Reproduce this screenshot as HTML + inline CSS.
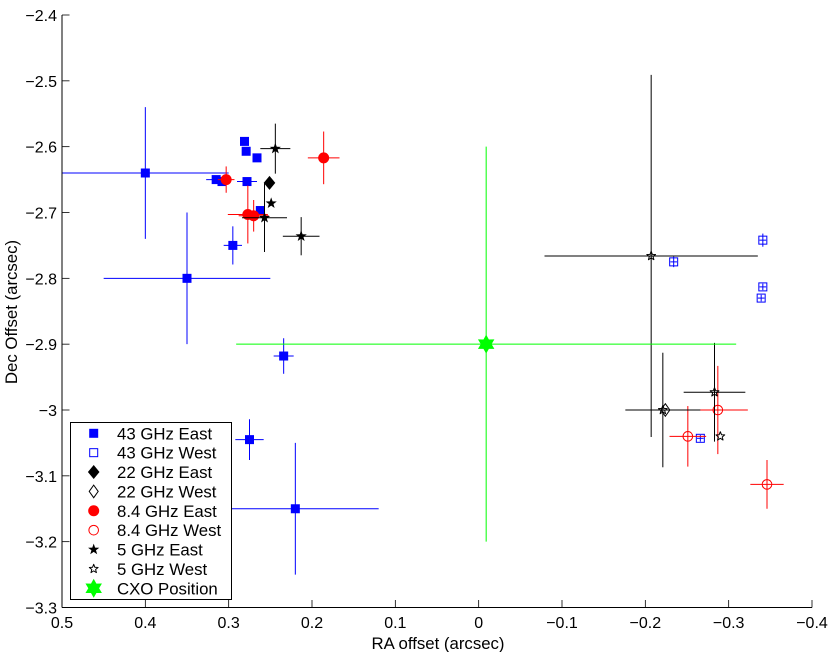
<!DOCTYPE html>
<html>
<head>
<meta charset="utf-8">
<title>RA and Dec offsets</title>
<style>
html,body{margin:0;padding:0;background:#fff;}
svg{display:block;}
text{font-family:"Liberation Sans",sans-serif;font-size:16.8px;fill:#000;}
text.tick-text{font-size:16px;}
</style>
</head>
<body>
<svg id="chart" xmlns="http://www.w3.org/2000/svg" width="830" height="652" viewBox="0 0 830 652"></svg>
<script>
const xTickValues = [0.5, 0.4, 0.3, 0.2, 0.1, 0, -0.1, -0.2, -0.3, -0.4];
const xTickLabels = ['0.5', '0.4', '0.3', '0.2', '0.1', '0', '\u22120.1', '\u22120.2', '\u22120.3', '\u22120.4'];
const yTickValues = [-2.4, -2.5, -2.6, -2.7, -2.8, -2.9, -3, -3.1, -3.2, -3.3];
const yTickLabels = ['\u22122.4', '\u22122.5', '\u22122.6', '\u22122.7', '\u22122.8', '\u22122.9', '\u22123', '\u22123.1', '\u22123.2', '\u22123.3'];

const ra43East = [0.4, 0.35, 0.22, 0.315, 0.308, 0.278, 0.281, 0.279, 0.266, 0.262, 0.295, 0.234, 0.275];
const dec43East = [-2.64, -2.8, -3.15, -2.65, -2.653, -2.653, -2.592, -2.607, -2.617, -2.697, -2.75, -2.918, -3.045];
const raErr43East = [0.1, 0.1, 0.1, 0.012, 0.006, 0.012, 0, 0, 0, 0, 0.011, 0.012, 0.017];
const decErr43East = [0.1, 0.1, 0.1, 0.006, 0.006, 0.006, 0, 0, 0, 0, 0.029, 0.027, 0.031];

const ra43West = [-0.234, -0.341, -0.341, -0.339, -0.266];
const dec43West = [-2.775, -2.742, -2.813, -2.83, -3.043];
const raErr43West = [0.004, 0.004, 0.004, 0.004, 0.004];
const decErr43West = [0.008, 0.01, 0.005, 0.005, 0.005];

const ra22East = [0.251];
const dec22East = [-2.655];
const raErr22East = [0];
const decErr22East = [0];

const ra22West = [-0.224];
const dec22West = [-3];
const raErr22West = [0];
const decErr22West = [0];

const ra84East = [0.303, 0.277, 0.27, 0.186];
const dec84East = [-2.65, -2.703, -2.705, -2.617];
const raErr84East = [0.01, 0.024, 0.018, 0.019];
const decErr84East = [0.02, 0.044, 0.024, 0.04];

const ra84West = [-0.287, -0.251, -0.346];
const dec84West = [-3, -3.04, -3.113];
const raErr84West = [0.036, 0.022, 0.02];
const decErr84West = [0.067, 0.046, 0.037];

const ra5East = [0.244, 0.249, 0.257, 0.213];
const dec5East = [-2.603, -2.686, -2.708, -2.736];
const raErr5East = [0.018, 0, 0.027, 0.022];
const decErr5East = [0.038, 0, 0.052, 0.029];

const ra5West = [-0.207, -0.221, -0.283, -0.29];
const dec5West = [-2.766, -3, -2.973, -3.04];
const raErr5West = [0.128, 0.045, 0.037, 0];
const decErr5West = [0.275, 0.087, 0.075, 0];

const raCxo = [-0.009];
const decCxo = [-2.9];
const raErrCxo = [0.3];
const decErrCxo = [0.3];

const legendLabels = ['43 GHz East', '43 GHz West', '22 GHz East', '22 GHz West', '8.4 GHz East', '8.4 GHz West', '5 GHz East', '5 GHz West', 'CXO Position'];

const NS = 'http://www.w3.org/2000/svg';
const svg = document.getElementById('chart');
const X0 = 62, X1 = 812, Y0 = 15, Y1 = 607.5;
function xScale(v) { return X0 + (0.5 - v) / 0.9 * (X1 - X0); }
function yScale(v) { return Y0 + (-2.4 - v) / 0.9 * (Y1 - Y0); }

function make(tag, attrs, parent) {
  const el = document.createElementNS(NS, tag);
  for (const k in attrs) el.setAttribute(k, attrs[k]);
  (parent || svg).appendChild(el);
  return el;
}
function starPoints(cx, cy, n, outer, inner) {
  const pts = [];
  for (let i = 0; i < n * 2; i++) {
    const r = i % 2 ? inner : outer;
    const a = -Math.PI / 2 + i * Math.PI / n;
    pts.push((cx + r * Math.cos(a)).toFixed(2) + ',' + (cy + r * Math.sin(a)).toFixed(2));
  }
  return pts.join(' ');
}
function drawMarker(kind, cx, cy, color, parent) {
  const filled = kind.indexOf('open') !== 0;
  const paint = filled ? { fill: color, stroke: 'none' } : { fill: 'none', stroke: color, 'stroke-width': 1 };
  const shape = kind.replace('open-', '');
  if (shape === 'square') {
    const s = filled ? 9 : 8;
    return make('rect', Object.assign({ x: cx - s / 2, y: cy - s / 2, width: s, height: s }, paint), parent);
  }
  if (shape === 'circle') {
    return make('circle', Object.assign({ cx: cx, cy: cy, r: filled ? 5.5 : 4.8 }, paint), parent);
  }
  if (shape === 'diamond') {
    const w = filled ? 5.8 : 4.5, h = filled ? 7 : 6.3;
    return make('polygon', Object.assign({ points: [cx, cy - h, cx + w, cy, cx, cy + h, cx - w, cy].join(',') }, paint), parent);
  }
  if (shape === 'star') {
    if (filled) return make('polygon', Object.assign({ points: starPoints(cx, cy, 5, 5.9, 2.4) }, paint), parent);
    return make('polygon', Object.assign({ points: starPoints(cx, cy, 5, 4.6, 2), 'stroke-linejoin': 'round' }, paint), parent);
  }
  return make('polygon', Object.assign({ points: starPoints(cx, cy, 6, 9.5, 5.4) }, paint), parent);
}
function drawSeries(name, kind, color, ra, dec, raErr, decErr) {
  const g = make('g', {});
  
  
  for (let i = 0; i < ra.length; i++) {
    const cx = xScale(ra[i]), cy = yScale(dec[i]);
    if (raErr[i] > 0) {
      const h = make('line', { x1: xScale(ra[i] + raErr[i]), x2: xScale(ra[i] - raErr[i]), y1: cy, y2: cy, stroke: color, 'stroke-width': 1 }, g);
      
      
    }
    if (decErr[i] > 0) {
      const v = make('line', { x1: cx, x2: cx, y1: yScale(dec[i] + decErr[i]), y2: yScale(dec[i] - decErr[i]), stroke: color, 'stroke-width': 1 }, g);
      
      
    }
    const m = drawMarker(kind, cx, cy, color, g);
    
    
  }
}

drawSeries('43-ghz-east', 'square', '#0000ff', ra43East, dec43East, raErr43East, decErr43East);
drawSeries('43-ghz-west', 'open-square', '#0000ff', ra43West, dec43West, raErr43West, decErr43West);
drawSeries('22-ghz-east', 'diamond', '#000000', ra22East, dec22East, raErr22East, decErr22East);
drawSeries('22-ghz-west', 'open-diamond', '#000000', ra22West, dec22West, raErr22West, decErr22West);
drawSeries('8-4-ghz-east', 'circle', '#ff0000', ra84East, dec84East, raErr84East, decErr84East);
drawSeries('8-4-ghz-west', 'open-circle', '#ff0000', ra84West, dec84West, raErr84West, decErr84West);
drawSeries('5-ghz-east', 'star', '#000000', ra5East, dec5East, raErr5East, decErr5East);
drawSeries('5-ghz-west', 'open-star', '#000000', ra5West, dec5West, raErr5West, decErr5West);
drawSeries('cxo-position', 'hexagram', '#00ff00', raCxo, decCxo, raErrCxo, decErrCxo);

const yAxisLine = make('line', { x1: X0, x2: X0, y1: Y0, y2: Y1, stroke: '#000', 'stroke-width': 1 });


const xAxisLine = make('line', { x1: X0, x2: X1, y1: Y1, y2: Y1, stroke: '#000', 'stroke-width': 1 });



xTickValues.forEach(function (v, i) {
  const x = xScale(v);
  const t = make('line', { x1: x, x2: x, y1: Y1, y2: Y1 - 7.5, stroke: '#000', 'stroke-width': 0.8 });
  
  
  const l = make('text', { x: x, y: 628, 'text-anchor': 'middle', class: 'tick-text' });
  l.textContent = xTickLabels[i];
  
  
});
yTickValues.forEach(function (v, i) {
  const y = yScale(v);
  const t = make('line', { x1: X0, x2: X0 + 7.5, y1: y, y2: y, stroke: '#000', 'stroke-width': 0.8 });
  
  
  const l = make('text', { x: 57, y: y + 6, 'text-anchor': 'end', class: 'tick-text' });
  l.textContent = yTickLabels[i];
  
  
});

const xTitle = make('text', { x: 438, y: 649, 'text-anchor': 'middle' });
xTitle.textContent = 'RA offset (arcsec)';


const yTitle = make('text', { x: 0, y: 0, 'text-anchor': 'middle', transform: 'translate(17 312) rotate(-90)' });
yTitle.textContent = 'Dec Offset (arcsec)';



const legend = make('g', {});


const legendBox = make('rect', { x: 70.5, y: 422.5, width: 161, height: 177, fill: '#fff', stroke: '#000', 'stroke-width': 1 }, legend);


const legendKinds = ['square', 'open-square', 'diamond', 'open-diamond', 'circle', 'open-circle', 'star', 'open-star', 'hexagram'];
const legendColors = ['#0000ff', '#0000ff', '#000000', '#000000', '#ff0000', '#ff0000', '#000000', '#000000', '#00ff00'];
legendLabels.forEach(function (label, i) {
  const cy = 433.3 + i * 19.37;
  const m = drawMarker(legendKinds[i], 93.7, cy, legendColors[i], legend);
  
  
  const t = make('text', { x: 117, y: cy + 6 }, legend);
  t.textContent = label;
  
  
});
</script>
</body>
</html>
